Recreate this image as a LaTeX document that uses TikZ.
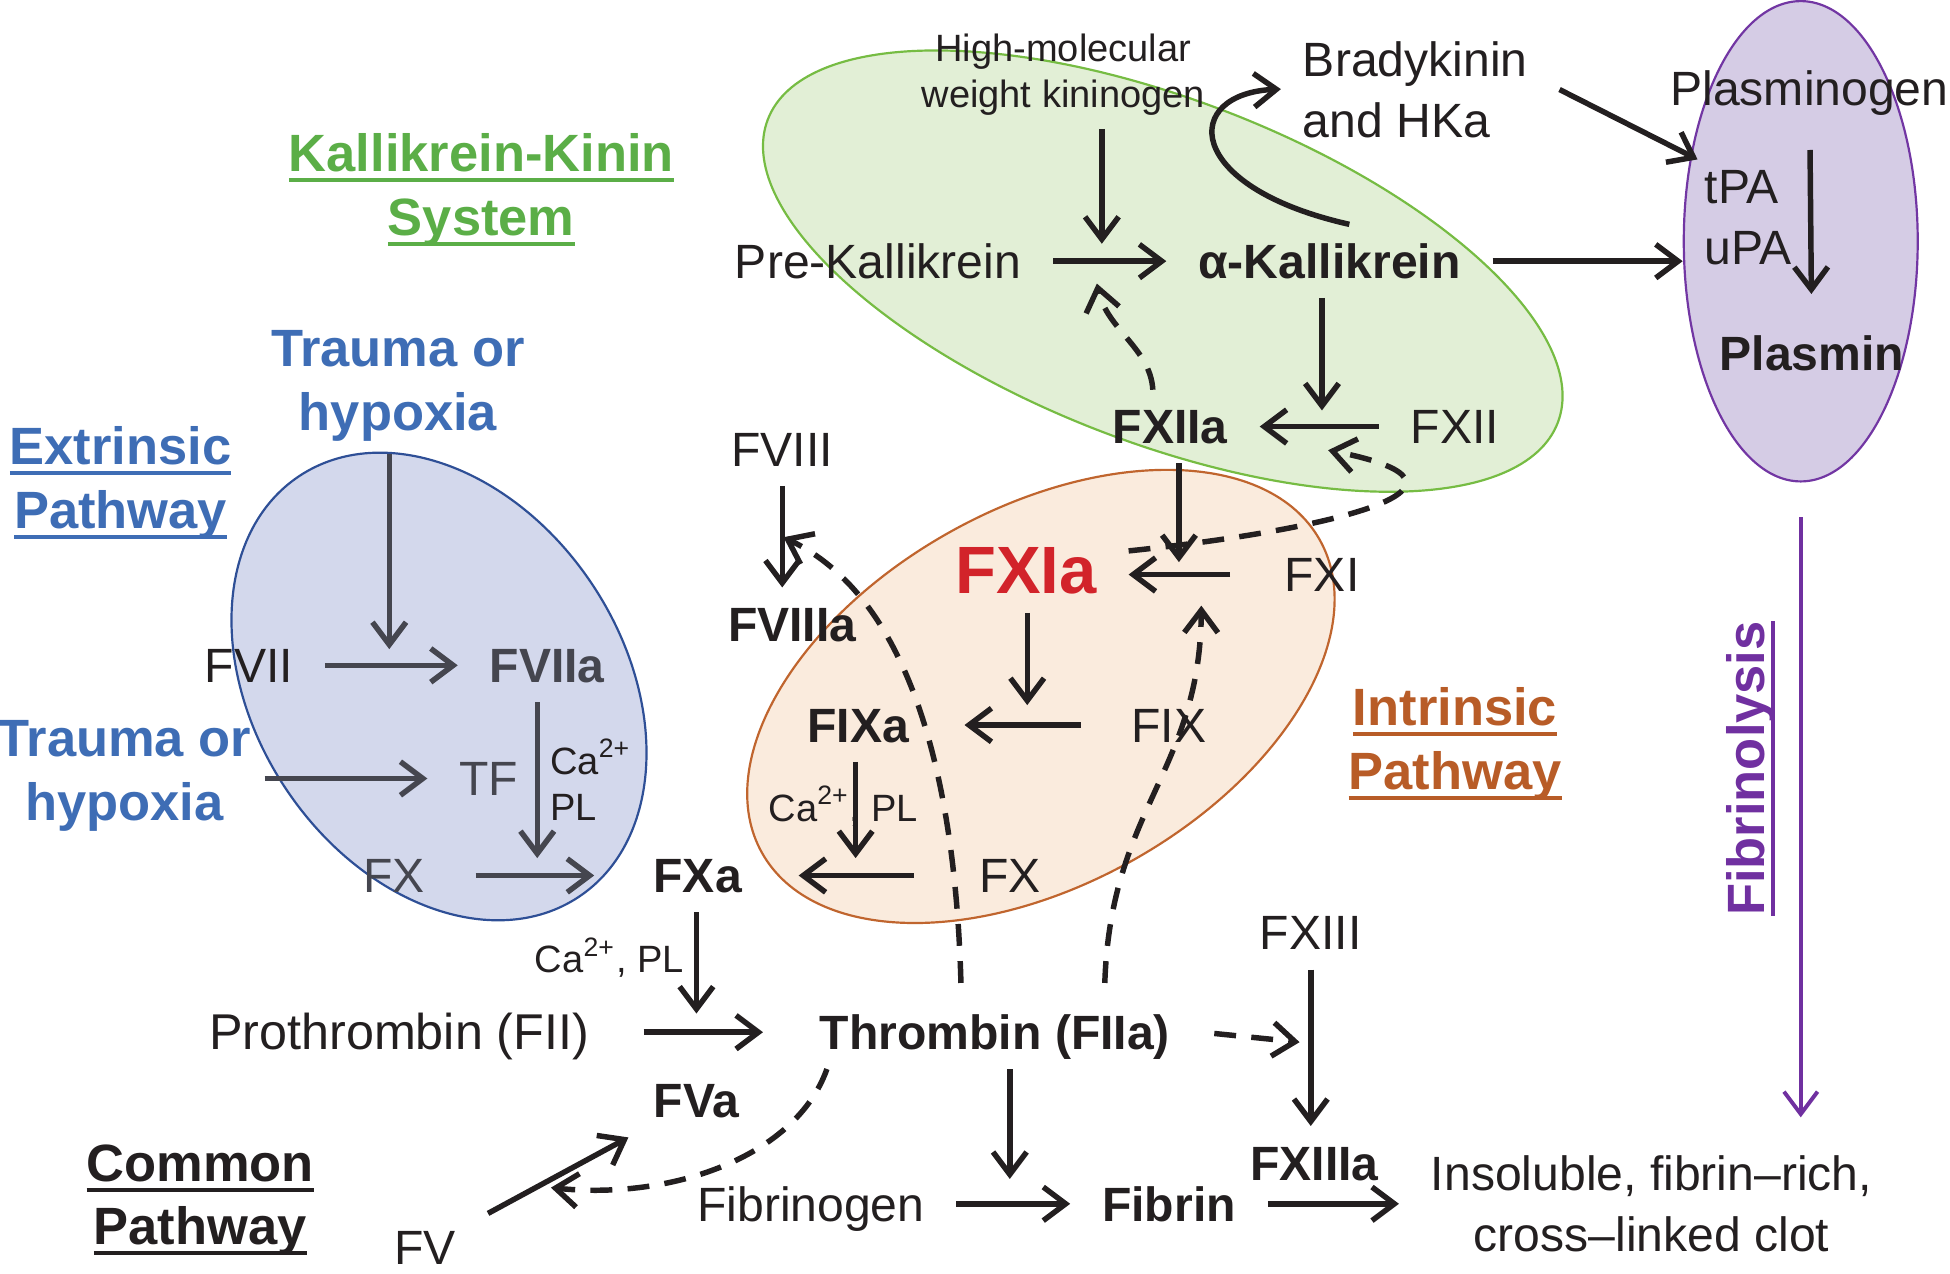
\documentclass[tikz,border=0pt]{standalone}
\usepackage{fontspec}
\setmainfont{Liberation Sans}
\usetikzlibrary{shapes.geometric, arrows.meta}

\definecolor{ink}{HTML}{231F20}
\definecolor{exgray}{HTML}{45464F}
\definecolor{kkfill}{HTML}{E2EFD6}
\definecolor{kkline}{HTML}{76BC43}
\definecolor{infill}{HTML}{FAEBDD}
\definecolor{inline}{HTML}{C0652E}
\definecolor{exfill}{HTML}{D3D8EC}
\definecolor{exline}{HTML}{2E4F96}
\definecolor{fbfill}{HTML}{D5CCE5}
\definecolor{fbline}{HTML}{7236A3}
\definecolor{kkgreen}{HTML}{5BAE47}
\definecolor{exblue}{HTML}{3E6DB5}
\definecolor{inorange}{HTML}{B85C27}
\definecolor{fbpurple}{HTML}{7030A0}
\definecolor{fxred}{HTML}{D2232A}

% thick underline for the pathway titles
\newcommand{\uln}[1]{\leavevmode\setbox0=\hbox{#1}\rlap{\rule[-2.4pt]{\wd0}{0.9pt}}\box0}

\begin{document}
\begin{tikzpicture}[x=0.01cm, y=-0.01cm,
    lab/.style={inner xsep=2.5mm, inner ysep=1.5mm, text height=7.9pt, text depth=0pt, text=ink, font=\fontsize{11}{13}\selectfont},
    blab/.style={lab, font=\fontsize{11}{13}\selectfont\bfseries},
    redlab/.style={lab, text height=10.9pt, text=fxred, font=\fontsize{15.3}{18}\selectfont\bfseries},
    two/.style={inner xsep=2.5mm, inner ysep=1.5mm, align=center, text=ink, font=\fontsize{11}{14}\selectfont},
    sml/.style={inner sep=1mm, align=center, text=ink, font=\fontsize{8.7}{10.6}\selectfont},
    ttl/.style={inner sep=1mm, align=center, font=\fontsize{12}{14.6}\selectfont\bfseries},
    ell/.style={ellipse, inner sep=0pt, line width=0.5pt},
    n/.style={-{Straight Barb[length=1.8mm, width=2.7mm]}, line width=1.25pt, draw=ink},
    d/.style={n, dash pattern=on 5pt off 3.5pt},
    g/.style={n, draw=exgray},
    p/.style={-{Straight Barb[length=1.8mm, width=2.7mm]}, line width=0.9pt, draw=fbpurple}]
    \useasboundingbox (0,0) rectangle (1568,1024);

    % areas
    \node[ell, draw=kkline, fill=kkfill, minimum width=6.8cm, minimum height=2.76cm, rotate=-21] (kkell) at (935,218) {};
    \node[ell, draw=inline, fill=infill, minimum width=5.14cm, minimum height=3.02cm, rotate=29.3] (inell) at (837,560) {};
    \node[ell, draw=exline, fill=exfill, minimum width=4.06cm, minimum height=2.96cm, rotate=-56.4] (exell) at (353,552) {};
    \node[ell, draw=fbline, fill=fbfill, minimum width=1.88cm, minimum height=3.86cm] (fbell) at (1448,194) {};

    % kallikrein-kinin nodes
    \node[sml] (hmwk) at (855,60) {High-molecular\\weight kininogen};
    \node[two, align=left, anchor=west] (brady) at (1022,72) {Bradykinin\\and HKa};
    \node[lab] (plg) at (1455,71) {Plasminogen};
    \node[lab] (prek) at (706,210) {Pre-Kallikrein};
    \node[blab] (akal) at (1069,210) {α-Kallikrein};
    \node[blab] (fxiia) at (941,343) {FXIIa};
    \node[lab] (fxii) at (1170,343) {FXII};
    \node[ttl, text=kkgreen] (kkttl) at (387,153) {\uln{Kallikrein-Kinin}\\\uln{System}};

    % fibrinolysis nodes
    \node[two, align=left, anchor=west] (tpa) at (1345,175) {tPA\\uPA};
    \node[blab] (plasmin) at (1457,284) {Plasmin};
    \node[ttl, text=fbpurple, rotate=90] (fbttl) at (1408,618) {\uln{Fibrinolysis}};

    % intrinsic nodes
    \node[lab] (fviii) at (629,361) {FVIII};
    \node[blab] (fviiia) at (637,502) {FVIIIa};
    \node[redlab] (fxia) at (825,458) {FXIa};
    \node[lab] (fxi) at (1063,462) {FXI};
    \node[blab] (fixa) at (690,583) {FIXa};
    \node[lab] (fix) at (940,583) {FIX};
    \node[sml] (cai) at (678,648) {Ca\textsuperscript{2+}, PL};
    \node[lab] (fxin) at (812,704) {FX};
    \node[blab] (fxa) at (561,704) {FXa};
    \node[ttl, text=inorange] (inttl) at (1170,598) {\uln{Intrinsic}\\\uln{Pathway}};

    % extrinsic nodes
    \node[ttl, text=exblue] (tr1) at (320,310) {Trauma or\\hypoxia};
    \node[ttl, text=exblue] (exttl) at (97,388) {\uln{Extrinsic}\\\uln{Pathway}};
    \node[lab] (fvii) at (200,535) {FVII};
    \node[blab, text=exgray] (fviia) at (440,535) {FVIIa};
    \node[ttl, text=exblue] (tr2) at (100,624) {Trauma or\\hypoxia};
    \node[lab, text=exgray] (tf) at (393,626) {TF};
    \node[sml, align=left] (cae) at (475,627) {Ca\textsuperscript{2+}\\PL};
    \node[lab, text=exgray] (fxe) at (317,704) {FX};

    % common nodes
    \node[lab, font=\fontsize{11.5}{13}\selectfont] (prot) at (321,830) {Prothrombin (FII)};
    \node[sml] (cac) at (490,770) {Ca\textsuperscript{2+}, PL};
    \node[blab] (thr) at (800,830) {Thrombin (FIIa)};
    \node[lab] (fxiii) at (1054,750) {FXIII};
    \node[blab] (fxiiia) at (1057,935) {FXIIIa};
    \node[blab] (fva) at (560,885) {FVa};
    \node[lab] (fv) at (342,1003) {FV};
    \node[lab] (fbg) at (652,968) {Fibrinogen};
    \node[blab] (fibrin) at (940,968) {Fibrin};
    \node[two] (clot) at (1328,968) {Insoluble, fibrin–rich,\\cross–linked clot};
    \node[ttl, text=ink] (cmttl) at (161,965) {\uln{Common}\\\uln{Pathway}};

    % points on arrows
    \coordinate (hk) at (886,196);
    \coordinate (pk) at (882,228);
    \coordinate (x12) at (1063,330);
    \coordinate (x12b) at (1068,362);
    \coordinate (x11) at (948,452);
    \coordinate (x11b) at (966,487);
    \coordinate (x9) at (826,567);
    \coordinate (x10) at (688,690);
    \coordinate (x8) at (630,432);
    \coordinate (x7) at (313,522);
    \coordinate (xe) at (432,690);
    \coordinate (x2) at (560,815);
    \coordinate (x5) at (443,955);
    \coordinate (x3) at (812,948);
    \coordinate (x13) at (1045,838);

    % edges
    \draw[n] (hmwk.south -| hk) -- (hk);
    \draw[n] (prek) -- (akal);
    \draw[n, shorten >=-0.8mm] ([xshift=0.16cm]akal.north) .. controls (950,150) and (950,75) .. (brady.west);
    \draw[n] (brady.east) -- ([xshift=2mm, yshift=-0.7mm]tpa.north west);
    \draw[n] (akal) -- (akal -| fbell.west);
    \draw[n, shorten <=2mm, shorten >=1.8mm] (plg) -- (plasmin);
    \draw[n] (akal.south -| x12) -- (x12);
    \draw[n] (fxii) -- (fxiia);
    \draw[d] ([xshift=-0.14cm]fxiia.north) .. controls (925,280) and (890,265) .. (pk);
    \draw[n] (fxiia.south -| x11) -- (x11);
    \draw[n, shorten <=1.8mm] (fxi) -- (fxi -| fxia.east);
    \draw[d] ([yshift=0.15cm]fxia.east) .. controls (1080,425) and (1210,390) .. (x12b);
    \draw[n] (fxia.south -| x9) -- (x9);
    \draw[n, shorten <=1.5mm, shorten >=1.9mm] (fix) -- (fixa);
    \draw[n] (fixa.south -| x10) -- (x10);
    \draw[n, shorten <=2.7mm, shorten >=2mm] (fxin) -- (fxa);
    \draw[n] (fviii) -- (fviii |- fviiia.north);
    \draw[d, shorten <=1mm] ([xshift=-0.27cm]thr.north) .. controls (768,620) and (730,480) .. (x8);
    \draw[d, shorten <=1mm] ([xshift=0.88cm]thr.north) .. controls (893,650) and (965,620) .. (x11b);
    \draw[d] ([xshift=-1.35cm]thr.south) .. controls (640,930) and (540,965) .. (x5);
    \draw[d, shorten <=1mm] (thr.east) -- (x13);
    \draw[g] (tr1.south -| x7) -- (x7);
    \draw[g] (fvii) -- (fviia);
    \draw[g] (fviia.south -| xe) -- (xe);
    \draw[g] (tr2.east |- tf) -- (tf);
    \draw[g, shorten <=1.5mm, shorten >=2.2mm] (fxe) -- (fxa);
    \draw[n] (fxa.south -| x2) -- (x2);
    \draw[n, shorten <=1.8mm, shorten >=2mm] (prot) -- (thr);
    \draw[n] (fv) -- (fva);
    \draw[n] (thr.south -| x3) -- (x3);
    \draw[n] (fbg) -- (fibrin);
    \draw[n] (fxiii) -- (fxiii |- fxiiia.north);
    \draw[n] (fibrin) -- (fibrin -| clot.west);
    \draw[p, shorten <=2.8mm, shorten >=1.5mm] (fbell.south) -- (fbell.south |- clot.north);
\end{tikzpicture}
\end{document}
